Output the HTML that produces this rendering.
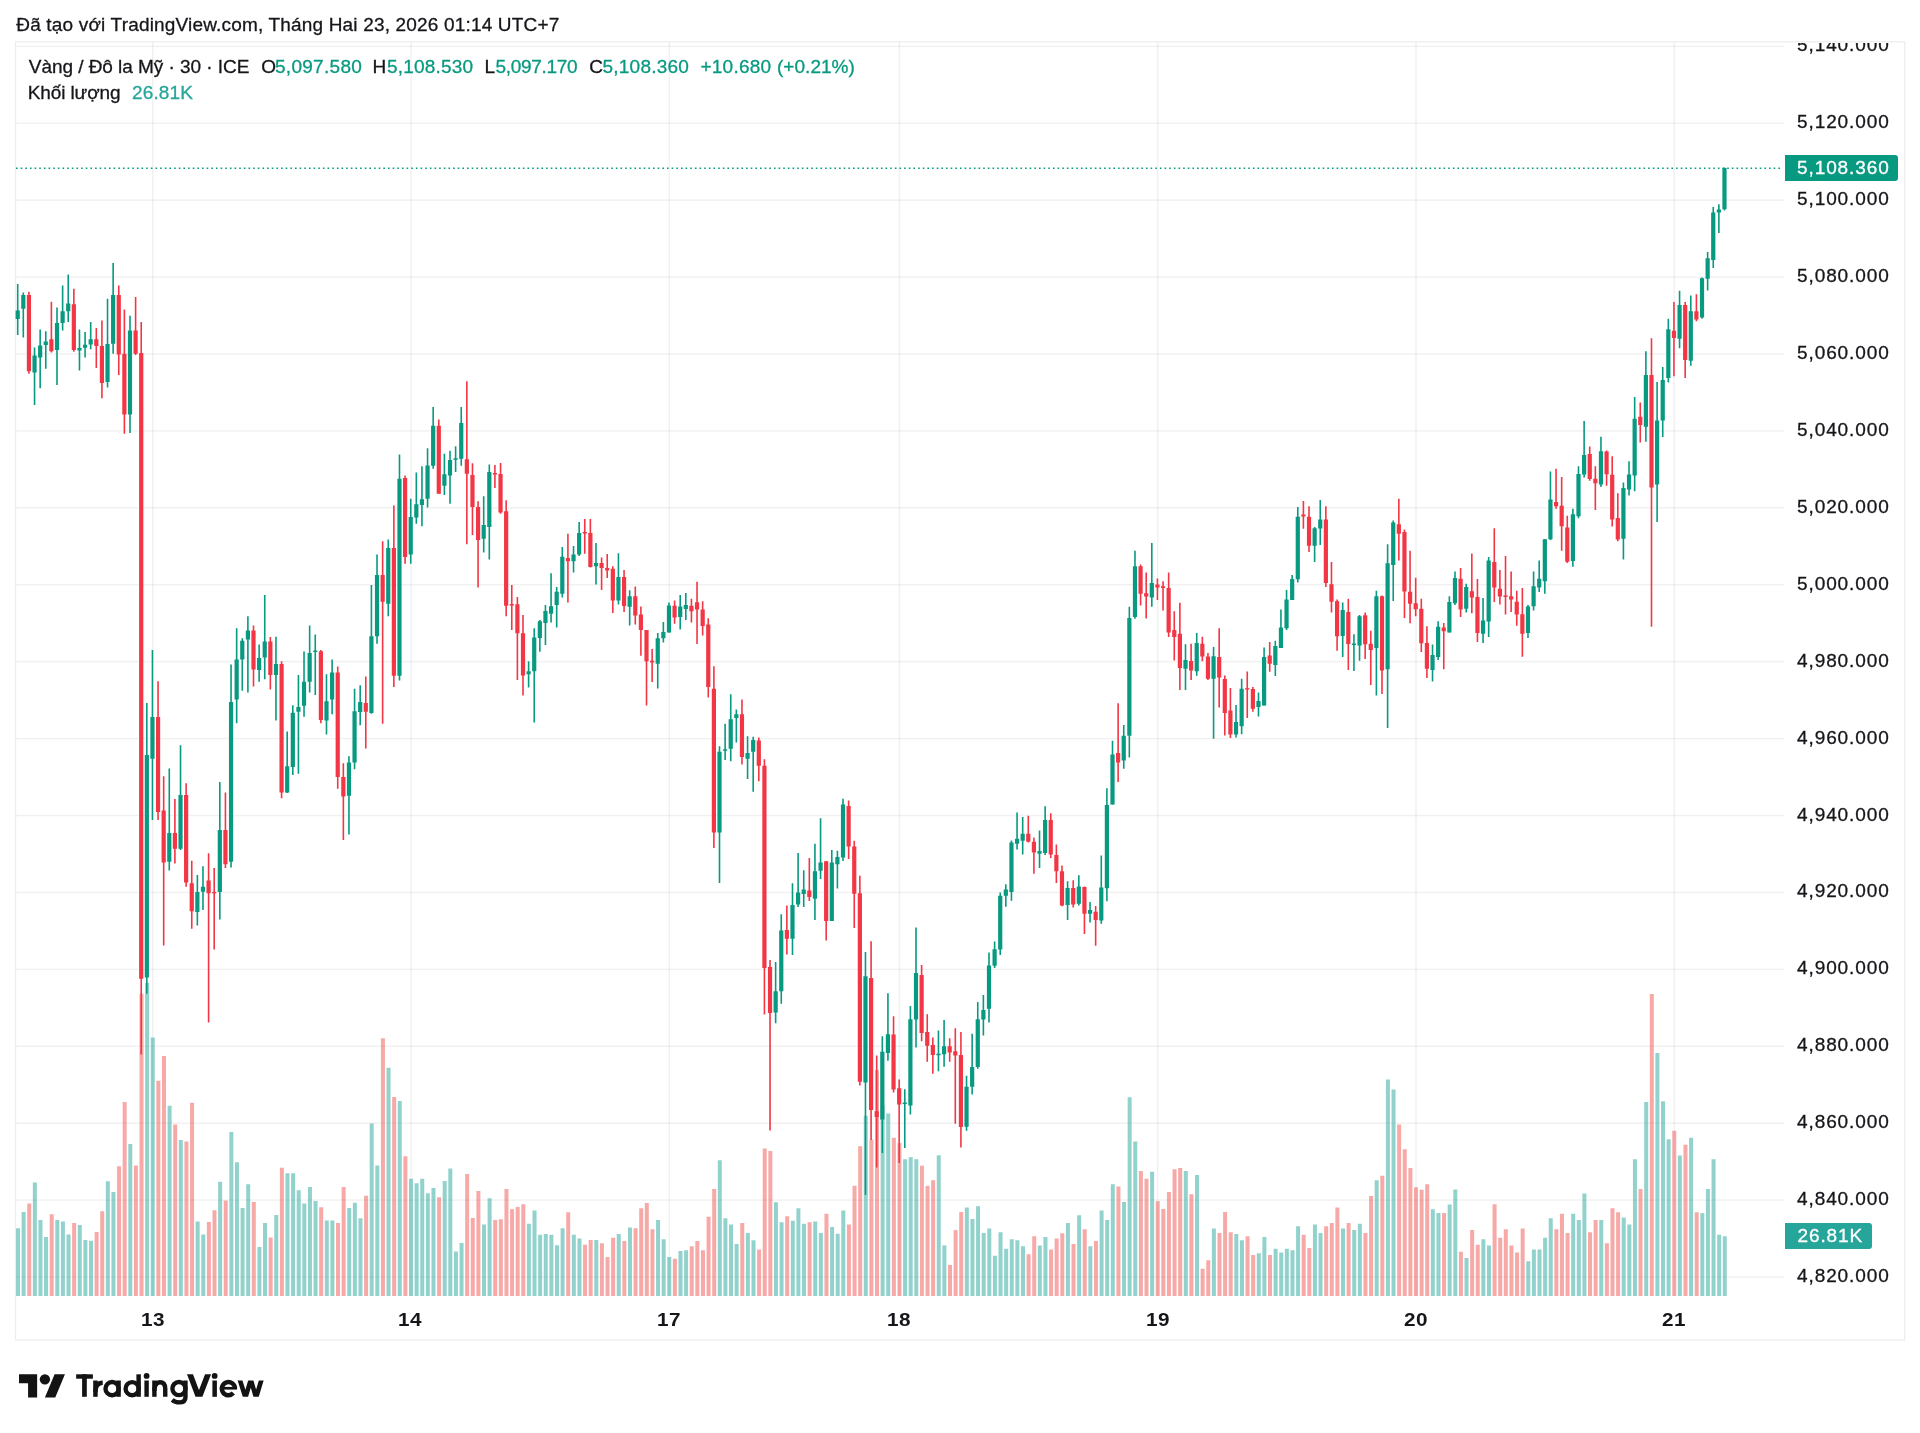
<!DOCTYPE html>
<html><head><meta charset="utf-8"><title>chart</title>
<style>
html,body{margin:0;padding:0;background:#fff;}
body{width:1920px;height:1433px;position:relative;overflow:hidden;font-family:"Liberation Sans",sans-serif;color:#131722;}
.t{position:absolute;white-space:nowrap;line-height:1;}
</style></head><body>
<svg width="1920" height="1433" viewBox="0 0 1920 1433" style="position:absolute;left:0;top:0;display:block">
<rect x="0" y="0" width="1920" height="1433" fill="#fff"/>
<g fill="rgba(0,0,0,0.055)">
<rect x="16" y="45.55" width="1768" height="1.5"/>
<rect x="16" y="122.47" width="1768" height="1.5"/>
<rect x="16" y="199.39" width="1768" height="1.5"/>
<rect x="16" y="276.31" width="1768" height="1.5"/>
<rect x="16" y="353.23" width="1768" height="1.5"/>
<rect x="16" y="430.15" width="1768" height="1.5"/>
<rect x="16" y="507.07" width="1768" height="1.5"/>
<rect x="16" y="583.99" width="1768" height="1.5"/>
<rect x="16" y="660.91" width="1768" height="1.5"/>
<rect x="16" y="737.83" width="1768" height="1.5"/>
<rect x="16" y="814.75" width="1768" height="1.5"/>
<rect x="16" y="891.67" width="1768" height="1.5"/>
<rect x="16" y="968.59" width="1768" height="1.5"/>
<rect x="16" y="1045.51" width="1768" height="1.5"/>
<rect x="16" y="1122.43" width="1768" height="1.5"/>
<rect x="16" y="1199.35" width="1768" height="1.5"/>
<rect x="16" y="1276.27" width="1768" height="1.5"/>
<rect x="152" y="42" width="1.5" height="1254"/>
<rect x="410.26" y="42" width="1.5" height="1254"/>
<rect x="668.52" y="42" width="1.5" height="1254"/>
<rect x="898.71" y="42" width="1.5" height="1254"/>
<rect x="1156.97" y="42" width="1.5" height="1254"/>
<rect x="1415.24" y="42" width="1.5" height="1254"/>
<rect x="1673.5" y="42" width="1.5" height="1254"/>
</g>
<rect x="15.5" y="41.8" width="1889.2" height="1298.2" fill="none" stroke="rgba(0,0,0,0.07)" stroke-width="1.3"/>
<g fill="rgba(38,166,154,0.5)"><rect x="16" y="1228.25" width="4" height="67.75"/><rect x="21.61" y="1212" width="4" height="84"/><rect x="32.84" y="1182.5" width="4" height="113.5"/><rect x="38.46" y="1220" width="4" height="76"/><rect x="44.07" y="1237" width="4" height="59"/><rect x="55.3" y="1220" width="4" height="76"/><rect x="60.92" y="1221.5" width="4" height="74.5"/><rect x="66.53" y="1234.5" width="4" height="61.5"/><rect x="77.76" y="1225" width="4" height="71"/><rect x="83.37" y="1240" width="4" height="56"/><rect x="88.99" y="1240.75" width="4" height="55.25"/><rect x="105.83" y="1181.25" width="4" height="114.75"/><rect x="111.44" y="1192" width="4" height="104"/><rect x="128.29" y="1144" width="4" height="152"/><rect x="145.13" y="983" width="4" height="313"/><rect x="150.75" y="1037.5" width="4" height="258.5"/><rect x="167.59" y="1105.75" width="4" height="190.25"/><rect x="178.82" y="1140" width="4" height="156"/><rect x="195.66" y="1221.5" width="4" height="74.5"/><rect x="201.28" y="1234.5" width="4" height="61.5"/><rect x="218.12" y="1181.75" width="4" height="114.25"/><rect x="229.35" y="1132" width="4" height="164"/><rect x="234.96" y="1162.25" width="4" height="133.75"/><rect x="240.58" y="1208" width="4" height="88"/><rect x="246.19" y="1184.25" width="4" height="111.75"/><rect x="257.42" y="1247" width="4" height="49"/><rect x="263.03" y="1223" width="4" height="73"/><rect x="274.26" y="1215" width="4" height="81"/><rect x="285.49" y="1173.25" width="4" height="122.75"/><rect x="291.11" y="1173.25" width="4" height="122.75"/><rect x="296.72" y="1190.25" width="4" height="105.75"/><rect x="302.33" y="1203.5" width="4" height="92.5"/><rect x="307.95" y="1187" width="4" height="109"/><rect x="313.56" y="1201" width="4" height="95"/><rect x="324.79" y="1220.5" width="4" height="75.5"/><rect x="330.41" y="1220.5" width="4" height="75.5"/><rect x="347.25" y="1208" width="4" height="88"/><rect x="352.86" y="1202.75" width="4" height="93.25"/><rect x="358.48" y="1218.25" width="4" height="77.75"/><rect x="369.71" y="1123.5" width="4" height="172.5"/><rect x="375.32" y="1165.5" width="4" height="130.5"/><rect x="386.55" y="1067.75" width="4" height="228.25"/><rect x="397.78" y="1101" width="4" height="195"/><rect x="409.01" y="1178.75" width="4" height="117.25"/><rect x="414.62" y="1183.25" width="4" height="112.75"/><rect x="420.24" y="1178.75" width="4" height="117.25"/><rect x="425.85" y="1193.25" width="4" height="102.75"/><rect x="431.47" y="1188" width="4" height="108"/><rect x="442.69" y="1181" width="4" height="115"/><rect x="448.31" y="1168.5" width="4" height="127.5"/><rect x="453.92" y="1251.5" width="4" height="44.5"/><rect x="459.54" y="1243" width="4" height="53"/><rect x="482" y="1224.5" width="4" height="71.5"/><rect x="487.61" y="1198.25" width="4" height="97.75"/><rect x="526.91" y="1223.75" width="4" height="72.25"/><rect x="532.52" y="1210.5" width="4" height="85.5"/><rect x="538.14" y="1234.75" width="4" height="61.25"/><rect x="543.75" y="1234" width="4" height="62"/><rect x="549.37" y="1234.75" width="4" height="61.25"/><rect x="554.98" y="1245.25" width="4" height="50.75"/><rect x="560.6" y="1228.25" width="4" height="67.75"/><rect x="571.83" y="1234.75" width="4" height="61.25"/><rect x="577.44" y="1238.5" width="4" height="57.5"/><rect x="594.28" y="1240" width="4" height="56"/><rect x="616.74" y="1234" width="4" height="62"/><rect x="627.97" y="1227.5" width="4" height="68.5"/><rect x="656.04" y="1220" width="4" height="76"/><rect x="661.66" y="1239.25" width="4" height="56.75"/><rect x="667.27" y="1257" width="4" height="39"/><rect x="678.5" y="1251" width="4" height="45"/><rect x="684.11" y="1250.25" width="4" height="45.75"/><rect x="717.8" y="1160.25" width="4" height="135.75"/><rect x="723.41" y="1218.25" width="4" height="77.75"/><rect x="729.03" y="1224.5" width="4" height="71.5"/><rect x="734.64" y="1244" width="4" height="52"/><rect x="745.87" y="1233" width="4" height="63"/><rect x="751.49" y="1240.25" width="4" height="55.75"/><rect x="773.94" y="1202.25" width="4" height="93.75"/><rect x="779.56" y="1222.25" width="4" height="73.75"/><rect x="790.79" y="1220.75" width="4" height="75.25"/><rect x="796.4" y="1208.25" width="4" height="87.75"/><rect x="802.02" y="1223.75" width="4" height="72.25"/><rect x="813.24" y="1221.5" width="4" height="74.5"/><rect x="818.86" y="1233" width="4" height="63"/><rect x="830.09" y="1227" width="4" height="69"/><rect x="835.7" y="1233.75" width="4" height="62.25"/><rect x="841.32" y="1210.5" width="4" height="85.5"/><rect x="863.77" y="1115.75" width="4" height="180.25"/><rect x="880.62" y="1105.37" width="4" height="190.63"/><rect x="886.23" y="1113.47" width="4" height="182.53"/><rect x="903.08" y="1159.26" width="4" height="136.74"/><rect x="908.69" y="1157.19" width="4" height="138.81"/><rect x="914.3" y="1159.26" width="4" height="136.74"/><rect x="936.76" y="1155.31" width="4" height="140.69"/><rect x="942.38" y="1245.38" width="4" height="50.62"/><rect x="964.83" y="1207.5" width="4" height="88.5"/><rect x="970.45" y="1219" width="4" height="77"/><rect x="976.06" y="1206.18" width="4" height="89.82"/><rect x="981.68" y="1232.94" width="4" height="63.06"/><rect x="987.29" y="1228.5" width="4" height="67.5"/><rect x="992.91" y="1255.75" width="4" height="40.25"/><rect x="998.52" y="1232.25" width="4" height="63.75"/><rect x="1004.13" y="1248.75" width="4" height="47.25"/><rect x="1009.75" y="1239.25" width="4" height="56.75"/><rect x="1015.36" y="1240.25" width="4" height="55.75"/><rect x="1020.98" y="1246.25" width="4" height="49.75"/><rect x="1037.82" y="1245.5" width="4" height="50.5"/><rect x="1043.44" y="1237" width="4" height="59"/><rect x="1065.89" y="1223" width="4" height="73"/><rect x="1077.12" y="1215.25" width="4" height="80.75"/><rect x="1088.35" y="1246.25" width="4" height="49.75"/><rect x="1099.58" y="1210.5" width="4" height="85.5"/><rect x="1105.19" y="1220" width="4" height="76"/><rect x="1110.81" y="1184.25" width="4" height="111.75"/><rect x="1122.04" y="1202" width="4" height="94"/><rect x="1127.65" y="1097.25" width="4" height="198.75"/><rect x="1133.27" y="1141.5" width="4" height="154.5"/><rect x="1150.11" y="1171.75" width="4" height="124.25"/><rect x="1183.8" y="1171" width="4" height="125"/><rect x="1195.02" y="1175" width="4" height="121"/><rect x="1211.87" y="1228.5" width="4" height="67.5"/><rect x="1234.32" y="1234" width="4" height="62"/><rect x="1239.94" y="1240.25" width="4" height="55.75"/><rect x="1256.78" y="1253.25" width="4" height="42.75"/><rect x="1262.4" y="1237" width="4" height="59"/><rect x="1273.63" y="1248.75" width="4" height="47.25"/><rect x="1279.24" y="1252.5" width="4" height="43.5"/><rect x="1284.85" y="1248.75" width="4" height="47.25"/><rect x="1290.47" y="1250.25" width="4" height="45.75"/><rect x="1296.08" y="1226.25" width="4" height="69.75"/><rect x="1312.93" y="1224.5" width="4" height="71.5"/><rect x="1318.54" y="1233" width="4" height="63"/><rect x="1341" y="1228.5" width="4" height="67.5"/><rect x="1352.23" y="1230" width="4" height="66"/><rect x="1357.84" y="1223.75" width="4" height="72.25"/><rect x="1374.68" y="1180.25" width="4" height="115.75"/><rect x="1385.91" y="1079.5" width="4" height="216.5"/><rect x="1391.53" y="1089.5" width="4" height="206.5"/><rect x="1430.83" y="1209.25" width="4" height="86.75"/><rect x="1436.44" y="1213" width="4" height="83"/><rect x="1447.67" y="1204.5" width="4" height="91.5"/><rect x="1453.29" y="1189.5" width="4" height="106.5"/><rect x="1464.52" y="1258" width="4" height="38"/><rect x="1481.36" y="1239.25" width="4" height="56.75"/><rect x="1486.97" y="1245.5" width="4" height="50.5"/><rect x="1526.27" y="1261.25" width="4" height="34.75"/><rect x="1531.89" y="1249.5" width="4" height="46.5"/><rect x="1537.5" y="1249.5" width="4" height="46.5"/><rect x="1543.12" y="1237.75" width="4" height="58.25"/><rect x="1548.73" y="1218.25" width="4" height="77.75"/><rect x="1571.19" y="1213.75" width="4" height="82.25"/><rect x="1576.8" y="1220" width="4" height="76"/><rect x="1582.42" y="1193.5" width="4" height="102.5"/><rect x="1599.26" y="1220" width="4" height="76"/><rect x="1621.72" y="1217.5" width="4" height="78.5"/><rect x="1627.33" y="1224.5" width="4" height="71.5"/><rect x="1632.95" y="1159.25" width="4" height="136.75"/><rect x="1644.18" y="1102" width="4" height="194"/><rect x="1655.4" y="1053" width="4" height="243"/><rect x="1661.02" y="1101.25" width="4" height="194.75"/><rect x="1666.63" y="1139.25" width="4" height="156.75"/><rect x="1677.86" y="1155.5" width="4" height="140.5"/><rect x="1689.09" y="1137.75" width="4" height="158.25"/><rect x="1700.32" y="1213" width="4" height="83"/><rect x="1705.93" y="1189" width="4" height="107"/><rect x="1711.55" y="1159.25" width="4" height="136.75"/><rect x="1717.16" y="1234.75" width="4" height="61.25"/><rect x="1722.78" y="1236.25" width="4" height="59.75"/></g>
<g fill="rgba(239,83,80,0.5)"><rect x="27.23" y="1203.5" width="4" height="92.5"/><rect x="49.69" y="1214.25" width="4" height="81.75"/><rect x="72.14" y="1223" width="4" height="73"/><rect x="94.6" y="1232" width="4" height="64"/><rect x="100.22" y="1211.25" width="4" height="84.75"/><rect x="117.06" y="1166.25" width="4" height="129.75"/><rect x="122.67" y="1102" width="4" height="194"/><rect x="133.9" y="1165.5" width="4" height="130.5"/><rect x="139.52" y="993.75" width="4" height="302.25"/><rect x="156.36" y="1080.75" width="4" height="215.25"/><rect x="161.97" y="1056" width="4" height="240"/><rect x="173.2" y="1124.5" width="4" height="171.5"/><rect x="184.43" y="1141.5" width="4" height="154.5"/><rect x="190.05" y="1102.75" width="4" height="193.25"/><rect x="206.89" y="1222" width="4" height="74"/><rect x="212.5" y="1210.25" width="4" height="85.75"/><rect x="223.73" y="1200.5" width="4" height="95.5"/><rect x="251.8" y="1202" width="4" height="94"/><rect x="268.65" y="1237.5" width="4" height="58.5"/><rect x="279.88" y="1167.75" width="4" height="128.25"/><rect x="319.18" y="1207.25" width="4" height="88.75"/><rect x="336.02" y="1223" width="4" height="73"/><rect x="341.64" y="1187" width="4" height="109"/><rect x="364.09" y="1195.75" width="4" height="100.25"/><rect x="380.94" y="1038.25" width="4" height="257.75"/><rect x="392.16" y="1097" width="4" height="199"/><rect x="403.39" y="1156.25" width="4" height="139.75"/><rect x="437.08" y="1197.25" width="4" height="98.75"/><rect x="465.15" y="1174" width="4" height="122"/><rect x="470.77" y="1218" width="4" height="78"/><rect x="476.38" y="1191" width="4" height="105"/><rect x="493.22" y="1220" width="4" height="76"/><rect x="498.84" y="1219.25" width="4" height="76.75"/><rect x="504.45" y="1189" width="4" height="107"/><rect x="510.07" y="1209.25" width="4" height="86.75"/><rect x="515.68" y="1207" width="4" height="89"/><rect x="521.3" y="1204.25" width="4" height="91.75"/><rect x="566.21" y="1212.25" width="4" height="83.75"/><rect x="583.05" y="1244.75" width="4" height="51.25"/><rect x="588.67" y="1240" width="4" height="56"/><rect x="599.9" y="1243.25" width="4" height="52.75"/><rect x="605.51" y="1257" width="4" height="39"/><rect x="611.13" y="1237.75" width="4" height="58.25"/><rect x="622.36" y="1241" width="4" height="55"/><rect x="633.58" y="1228.25" width="4" height="67.75"/><rect x="639.2" y="1208.25" width="4" height="87.75"/><rect x="644.81" y="1203" width="4" height="93"/><rect x="650.43" y="1229.25" width="4" height="66.75"/><rect x="672.88" y="1258.75" width="4" height="37.25"/><rect x="689.73" y="1246.25" width="4" height="49.75"/><rect x="695.34" y="1241" width="4" height="55"/><rect x="700.96" y="1250.25" width="4" height="45.75"/><rect x="706.57" y="1216.75" width="4" height="79.25"/><rect x="712.19" y="1189" width="4" height="107"/><rect x="740.26" y="1223" width="4" height="73"/><rect x="757.1" y="1249.5" width="4" height="46.5"/><rect x="762.72" y="1148.5" width="4" height="147.5"/><rect x="768.33" y="1151" width="4" height="145"/><rect x="785.17" y="1216.25" width="4" height="79.75"/><rect x="807.63" y="1222.25" width="4" height="73.75"/><rect x="824.47" y="1213.75" width="4" height="82.25"/><rect x="846.93" y="1224.5" width="4" height="71.5"/><rect x="852.55" y="1185.75" width="4" height="110.25"/><rect x="858.16" y="1146.25" width="4" height="149.75"/><rect x="869.39" y="1139.59" width="4" height="156.41"/><rect x="875" y="1070.14" width="4" height="225.86"/><rect x="891.85" y="1137.78" width="4" height="158.22"/><rect x="897.46" y="1143.06" width="4" height="152.94"/><rect x="919.92" y="1165.67" width="4" height="130.33"/><rect x="925.53" y="1185.83" width="4" height="110.17"/><rect x="931.15" y="1180.18" width="4" height="115.82"/><rect x="947.99" y="1264.97" width="4" height="31.03"/><rect x="953.6" y="1230.11" width="4" height="65.89"/><rect x="959.22" y="1212.02" width="4" height="83.98"/><rect x="1026.59" y="1254.25" width="4" height="41.75"/><rect x="1032.21" y="1236.25" width="4" height="59.75"/><rect x="1049.05" y="1249.5" width="4" height="46.5"/><rect x="1054.66" y="1238.5" width="4" height="57.5"/><rect x="1060.28" y="1233.25" width="4" height="62.75"/><rect x="1071.51" y="1244" width="4" height="52"/><rect x="1082.74" y="1229.25" width="4" height="66.75"/><rect x="1093.96" y="1241" width="4" height="55"/><rect x="1116.42" y="1186.5" width="4" height="109.5"/><rect x="1138.88" y="1171" width="4" height="125"/><rect x="1144.49" y="1178.75" width="4" height="117.25"/><rect x="1155.72" y="1201.25" width="4" height="94.75"/><rect x="1161.34" y="1209" width="4" height="87"/><rect x="1166.95" y="1192" width="4" height="104"/><rect x="1172.57" y="1169.25" width="4" height="126.75"/><rect x="1178.18" y="1168" width="4" height="128"/><rect x="1189.41" y="1194.25" width="4" height="101.75"/><rect x="1200.64" y="1268.75" width="4" height="27.25"/><rect x="1206.25" y="1260.25" width="4" height="35.75"/><rect x="1217.48" y="1233" width="4" height="63"/><rect x="1223.1" y="1212" width="4" height="84"/><rect x="1228.71" y="1232.25" width="4" height="63.75"/><rect x="1245.55" y="1236.25" width="4" height="59.75"/><rect x="1251.17" y="1255" width="4" height="41"/><rect x="1268.01" y="1255" width="4" height="41"/><rect x="1301.7" y="1234.75" width="4" height="61.25"/><rect x="1307.31" y="1248" width="4" height="48"/><rect x="1324.16" y="1226.25" width="4" height="69.75"/><rect x="1329.77" y="1223" width="4" height="73"/><rect x="1335.38" y="1207.5" width="4" height="88.5"/><rect x="1346.61" y="1223" width="4" height="73"/><rect x="1363.46" y="1233" width="4" height="63"/><rect x="1369.07" y="1196" width="4" height="100"/><rect x="1380.3" y="1175.75" width="4" height="120.25"/><rect x="1397.14" y="1124.5" width="4" height="171.5"/><rect x="1402.76" y="1149.25" width="4" height="146.75"/><rect x="1408.37" y="1168" width="4" height="128"/><rect x="1413.99" y="1187.25" width="4" height="108.75"/><rect x="1419.6" y="1189.75" width="4" height="106.25"/><rect x="1425.21" y="1184.25" width="4" height="111.75"/><rect x="1442.06" y="1213" width="4" height="83"/><rect x="1458.9" y="1251.75" width="4" height="44.25"/><rect x="1470.13" y="1230" width="4" height="66"/><rect x="1475.74" y="1244.75" width="4" height="51.25"/><rect x="1492.59" y="1204.25" width="4" height="91.75"/><rect x="1498.2" y="1237.75" width="4" height="58.25"/><rect x="1503.82" y="1229.25" width="4" height="66.75"/><rect x="1509.43" y="1245.5" width="4" height="50.5"/><rect x="1515.04" y="1252.5" width="4" height="43.5"/><rect x="1520.66" y="1228.5" width="4" height="67.5"/><rect x="1554.35" y="1229.25" width="4" height="66.75"/><rect x="1559.96" y="1213.75" width="4" height="82.25"/><rect x="1565.57" y="1233" width="4" height="63"/><rect x="1588.03" y="1232.25" width="4" height="63.75"/><rect x="1593.65" y="1220" width="4" height="76"/><rect x="1604.88" y="1243.25" width="4" height="52.75"/><rect x="1610.49" y="1208.25" width="4" height="87.75"/><rect x="1616.1" y="1212.25" width="4" height="83.75"/><rect x="1638.56" y="1189" width="4" height="107"/><rect x="1649.79" y="994" width="4" height="302"/><rect x="1672.25" y="1130.75" width="4" height="165.25"/><rect x="1683.48" y="1144.75" width="4" height="151.25"/><rect x="1694.71" y="1212.25" width="4" height="83.75"/></g>
<line x1="16" y1="168.2" x2="1781" y2="168.2" stroke="#089981" stroke-width="1.4" stroke-dasharray="1.6 3.05"/>
<g fill="#089981"><rect x="16.9" y="284" width="1.6" height="51"/><rect x="15.6" y="310.5" width="4.2" height="8.5"/><rect x="22.51" y="292.5" width="1.6" height="45"/><rect x="21.21" y="295" width="4.2" height="13.75"/><rect x="33.74" y="347.5" width="1.6" height="57.5"/><rect x="32.44" y="355.5" width="4.2" height="17"/><rect x="39.36" y="329.5" width="1.6" height="58.75"/><rect x="38.06" y="345.5" width="4.2" height="12"/><rect x="44.97" y="331.25" width="1.6" height="37.5"/><rect x="43.67" y="341.5" width="4.2" height="3.5"/><rect x="56.2" y="307.5" width="1.6" height="77.5"/><rect x="54.9" y="323" width="4.2" height="27"/><rect x="61.82" y="285.5" width="1.6" height="45"/><rect x="60.52" y="311.25" width="4.2" height="11.75"/><rect x="67.43" y="274.5" width="1.6" height="47.5"/><rect x="66.13" y="303.5" width="4.2" height="7.75"/><rect x="78.66" y="329.5" width="1.6" height="41"/><rect x="77.36" y="348" width="4.2" height="2.5"/><rect x="84.27" y="332" width="1.6" height="25.5"/><rect x="82.97" y="344.75" width="4.2" height="3"/><rect x="89.89" y="322" width="1.6" height="27.25"/><rect x="88.59" y="339.25" width="4.2" height="5.25"/><rect x="106.73" y="298.75" width="1.6" height="88.75"/><rect x="105.43" y="344" width="4.2" height="38"/><rect x="112.34" y="263" width="1.6" height="90.75"/><rect x="111.04" y="295" width="4.2" height="48.75"/><rect x="129.19" y="315.75" width="1.6" height="117.25"/><rect x="127.89" y="330.5" width="4.2" height="84"/><rect x="146.03" y="703" width="1.6" height="290.75"/><rect x="144.73" y="755" width="4.2" height="222.5"/><rect x="151.65" y="650" width="1.6" height="170"/><rect x="150.35" y="717" width="4.2" height="41.75"/><rect x="168.49" y="768.5" width="1.6" height="102"/><rect x="167.19" y="833" width="4.2" height="28.75"/><rect x="179.72" y="745.25" width="1.6" height="104.75"/><rect x="178.42" y="795" width="4.2" height="53.75"/><rect x="196.56" y="875" width="1.6" height="50.5"/><rect x="195.26" y="892" width="4.2" height="20"/><rect x="202.18" y="866.25" width="1.6" height="43.75"/><rect x="200.88" y="886.75" width="4.2" height="5"/><rect x="219.02" y="782" width="1.6" height="137.5"/><rect x="217.72" y="830" width="4.2" height="62"/><rect x="230.25" y="664.5" width="1.6" height="203"/><rect x="228.95" y="702" width="4.2" height="159.75"/><rect x="235.86" y="628.25" width="1.6" height="95"/><rect x="234.56" y="659.5" width="4.2" height="40"/><rect x="241.48" y="638.25" width="1.6" height="52.5"/><rect x="240.18" y="640.75" width="4.2" height="18.75"/><rect x="247.09" y="616.25" width="1.6" height="76.25"/><rect x="245.79" y="630.5" width="4.2" height="9"/><rect x="258.32" y="644.5" width="1.6" height="37.25"/><rect x="257.02" y="658" width="4.2" height="12"/><rect x="263.93" y="595" width="1.6" height="84.25"/><rect x="262.63" y="641.5" width="4.2" height="16"/><rect x="275.16" y="636.75" width="1.6" height="83.75"/><rect x="273.86" y="664" width="4.2" height="11"/><rect x="286.39" y="731.5" width="1.6" height="61.5"/><rect x="285.09" y="766.25" width="4.2" height="26.25"/><rect x="292.01" y="705.25" width="1.6" height="69.75"/><rect x="290.71" y="712.75" width="4.2" height="54.25"/><rect x="297.62" y="675" width="1.6" height="98.75"/><rect x="296.32" y="707" width="4.2" height="4.75"/><rect x="303.23" y="651.5" width="1.6" height="65.25"/><rect x="301.93" y="681.75" width="4.2" height="24"/><rect x="308.85" y="625.5" width="1.6" height="67"/><rect x="307.55" y="653" width="4.2" height="28.75"/><rect x="314.46" y="634.5" width="1.6" height="60.5"/><rect x="313.16" y="650.55" width="4.2" height="1.4"/><rect x="325.69" y="674.25" width="1.6" height="60.25"/><rect x="324.39" y="701.25" width="4.2" height="19.25"/><rect x="331.31" y="659.5" width="1.6" height="54.75"/><rect x="330.01" y="672.5" width="4.2" height="27"/><rect x="348.15" y="756.25" width="1.6" height="78.25"/><rect x="346.85" y="762.5" width="4.2" height="33.25"/><rect x="353.76" y="688.75" width="1.6" height="80.5"/><rect x="352.46" y="711.25" width="4.2" height="51.25"/><rect x="359.38" y="685.25" width="1.6" height="40"/><rect x="358.08" y="702" width="4.2" height="10"/><rect x="370.61" y="585" width="1.6" height="128.75"/><rect x="369.31" y="636.25" width="4.2" height="76.75"/><rect x="376.22" y="554.5" width="1.6" height="89.25"/><rect x="374.92" y="575" width="4.2" height="61.25"/><rect x="387.45" y="539.5" width="1.6" height="76.75"/><rect x="386.15" y="548" width="4.2" height="55.75"/><rect x="398.68" y="454.5" width="1.6" height="226"/><rect x="397.38" y="478.75" width="4.2" height="197"/><rect x="409.91" y="498.75" width="1.6" height="65"/><rect x="408.61" y="517" width="4.2" height="37.5"/><rect x="415.52" y="472.5" width="1.6" height="51.25"/><rect x="414.22" y="504.25" width="4.2" height="13.25"/><rect x="421.14" y="466.25" width="1.6" height="60"/><rect x="419.84" y="499.25" width="4.2" height="5.75"/><rect x="426.75" y="448.25" width="1.6" height="59.25"/><rect x="425.45" y="465.5" width="4.2" height="33.25"/><rect x="432.37" y="407" width="1.6" height="61.75"/><rect x="431.07" y="425.75" width="4.2" height="40"/><rect x="443.59" y="453.75" width="1.6" height="41.25"/><rect x="442.29" y="474.25" width="4.2" height="11.5"/><rect x="449.21" y="450.75" width="1.6" height="53"/><rect x="447.91" y="460" width="4.2" height="15.5"/><rect x="454.82" y="446.25" width="1.6" height="25.75"/><rect x="453.52" y="458.25" width="4.2" height="1.5"/><rect x="460.44" y="407" width="1.6" height="58.75"/><rect x="459.14" y="423" width="4.2" height="35.75"/><rect x="482.9" y="496.25" width="1.6" height="56.25"/><rect x="481.6" y="525" width="4.2" height="13.75"/><rect x="488.51" y="464.5" width="1.6" height="95"/><rect x="487.21" y="472" width="4.2" height="55"/><rect x="527.81" y="661.25" width="1.6" height="26.25"/><rect x="526.51" y="671.25" width="4.2" height="3"/><rect x="533.42" y="628.25" width="1.6" height="94.25"/><rect x="532.12" y="637.5" width="4.2" height="33.75"/><rect x="539.04" y="620" width="1.6" height="31.75"/><rect x="537.74" y="621.25" width="4.2" height="16.75"/><rect x="544.65" y="605" width="1.6" height="40"/><rect x="543.35" y="611" width="4.2" height="12"/><rect x="550.27" y="573.25" width="1.6" height="49.25"/><rect x="548.97" y="606.25" width="4.2" height="7.5"/><rect x="555.88" y="587" width="1.6" height="40.5"/><rect x="554.58" y="591.75" width="4.2" height="13.25"/><rect x="561.5" y="547" width="1.6" height="50.5"/><rect x="560.2" y="556.75" width="4.2" height="37"/><rect x="572.73" y="546" width="1.6" height="26.5"/><rect x="571.43" y="554.5" width="4.2" height="6.75"/><rect x="578.34" y="522" width="1.6" height="34"/><rect x="577.04" y="533" width="4.2" height="21.5"/><rect x="595.18" y="543" width="1.6" height="41.5"/><rect x="593.88" y="563" width="4.2" height="3.25"/><rect x="617.64" y="553.25" width="1.6" height="51.25"/><rect x="616.34" y="577" width="4.2" height="23.5"/><rect x="628.87" y="590.25" width="1.6" height="35.25"/><rect x="627.57" y="596.25" width="4.2" height="10.5"/><rect x="656.94" y="633" width="1.6" height="55.5"/><rect x="655.64" y="638.25" width="4.2" height="25.5"/><rect x="662.56" y="622" width="1.6" height="20.5"/><rect x="661.26" y="632" width="4.2" height="6.25"/><rect x="668.17" y="602.5" width="1.6" height="30"/><rect x="666.87" y="605.5" width="4.2" height="27"/><rect x="679.4" y="595" width="1.6" height="34.5"/><rect x="678.1" y="606.5" width="4.2" height="10.5"/><rect x="685.01" y="593" width="1.6" height="27"/><rect x="683.71" y="605" width="4.2" height="4"/><rect x="718.7" y="746.25" width="1.6" height="136.75"/><rect x="717.4" y="751.75" width="4.2" height="80.75"/><rect x="724.31" y="723.75" width="1.6" height="36.25"/><rect x="723.01" y="749.25" width="4.2" height="1.5"/><rect x="729.93" y="694.25" width="1.6" height="67"/><rect x="728.63" y="719.25" width="4.2" height="29.5"/><rect x="735.54" y="709.5" width="1.6" height="33"/><rect x="734.24" y="714.25" width="4.2" height="3.75"/><rect x="746.77" y="736.25" width="1.6" height="42.75"/><rect x="745.47" y="753" width="4.2" height="5.75"/><rect x="752.39" y="736.75" width="1.6" height="55"/><rect x="751.09" y="740" width="4.2" height="11.75"/><rect x="774.84" y="962" width="1.6" height="61.25"/><rect x="773.54" y="991.25" width="4.2" height="21.25"/><rect x="780.46" y="914.25" width="1.6" height="89.5"/><rect x="779.16" y="930.5" width="4.2" height="60.75"/><rect x="791.69" y="883.25" width="1.6" height="71.75"/><rect x="790.39" y="905" width="4.2" height="33.75"/><rect x="797.3" y="853" width="1.6" height="54"/><rect x="796" y="892.5" width="4.2" height="12"/><rect x="802.92" y="870.25" width="1.6" height="36.75"/><rect x="801.62" y="889.5" width="4.2" height="4.5"/><rect x="814.14" y="843.75" width="1.6" height="76.25"/><rect x="812.84" y="871.25" width="4.2" height="27.5"/><rect x="819.76" y="818.25" width="1.6" height="60.75"/><rect x="818.46" y="862.5" width="4.2" height="8.25"/><rect x="830.99" y="850" width="1.6" height="71"/><rect x="829.69" y="862.5" width="4.2" height="58.5"/><rect x="836.6" y="850.75" width="1.6" height="37.75"/><rect x="835.3" y="857" width="4.2" height="7.25"/><rect x="842.22" y="798.75" width="1.6" height="62.25"/><rect x="840.92" y="804.5" width="4.2" height="53"/><rect x="864.67" y="952" width="1.6" height="243"/><rect x="863.37" y="976.25" width="4.2" height="106.25"/><rect x="881.52" y="1036.25" width="1.6" height="116.75"/><rect x="880.22" y="1051.75" width="4.2" height="67.75"/><rect x="887.13" y="993.25" width="1.6" height="67.5"/><rect x="885.83" y="1034.25" width="4.2" height="18.75"/><rect x="903.98" y="1089.25" width="1.6" height="58.75"/><rect x="902.68" y="1102.5" width="4.2" height="1.5"/><rect x="909.59" y="1006" width="1.6" height="108.5"/><rect x="908.29" y="1019.25" width="4.2" height="86.25"/><rect x="915.2" y="927.5" width="1.6" height="120"/><rect x="913.9" y="973" width="4.2" height="46.5"/><rect x="937.66" y="1030.5" width="1.6" height="40.75"/><rect x="936.36" y="1053.75" width="4.2" height="1.5"/><rect x="943.28" y="1020" width="1.6" height="46.75"/><rect x="941.98" y="1046.25" width="4.2" height="8"/><rect x="965.73" y="1075.75" width="1.6" height="55"/><rect x="964.43" y="1086.75" width="4.2" height="40"/><rect x="971.35" y="1033.75" width="1.6" height="60.75"/><rect x="970.05" y="1067" width="4.2" height="19.75"/><rect x="976.96" y="1002" width="1.6" height="66.75"/><rect x="975.66" y="1019.25" width="4.2" height="47.75"/><rect x="982.58" y="995" width="1.6" height="40.5"/><rect x="981.28" y="1010" width="4.2" height="9.5"/><rect x="988.19" y="952.5" width="1.6" height="70"/><rect x="986.89" y="965.5" width="4.2" height="43.25"/><rect x="993.81" y="941.5" width="1.6" height="26.5"/><rect x="992.51" y="949.25" width="4.2" height="16.5"/><rect x="999.42" y="892.5" width="1.6" height="62.5"/><rect x="998.12" y="895.75" width="4.2" height="53.75"/><rect x="1005.03" y="884.25" width="1.6" height="22.5"/><rect x="1003.73" y="889.5" width="4.2" height="6.25"/><rect x="1010.65" y="840.5" width="1.6" height="60.25"/><rect x="1009.35" y="842.5" width="4.2" height="49.5"/><rect x="1016.26" y="812.5" width="1.6" height="37"/><rect x="1014.96" y="838.75" width="4.2" height="5"/><rect x="1021.88" y="817" width="1.6" height="37.5"/><rect x="1020.58" y="833.75" width="4.2" height="7"/><rect x="1038.72" y="830.5" width="1.6" height="37.5"/><rect x="1037.42" y="851" width="4.2" height="2.75"/><rect x="1044.34" y="806.25" width="1.6" height="48.75"/><rect x="1043.04" y="820" width="4.2" height="33"/><rect x="1066.79" y="881.25" width="1.6" height="38.75"/><rect x="1065.49" y="888" width="4.2" height="17"/><rect x="1078.02" y="875.25" width="1.6" height="30.25"/><rect x="1076.72" y="886.5" width="4.2" height="17.25"/><rect x="1089.25" y="902" width="1.6" height="20.5"/><rect x="1087.95" y="910" width="4.2" height="3.75"/><rect x="1100.48" y="855.5" width="1.6" height="68.25"/><rect x="1099.18" y="887.5" width="4.2" height="33"/><rect x="1106.09" y="788.25" width="1.6" height="113"/><rect x="1104.79" y="805" width="4.2" height="83.25"/><rect x="1111.71" y="740.75" width="1.6" height="63.75"/><rect x="1110.41" y="754.5" width="4.2" height="50"/><rect x="1122.94" y="725" width="1.6" height="43.75"/><rect x="1121.64" y="735.75" width="4.2" height="24.75"/><rect x="1128.55" y="606.75" width="1.6" height="150.75"/><rect x="1127.25" y="618" width="4.2" height="117.75"/><rect x="1134.17" y="550.75" width="1.6" height="68"/><rect x="1132.87" y="566.25" width="4.2" height="50.75"/><rect x="1151.01" y="543" width="1.6" height="63.75"/><rect x="1149.71" y="583" width="4.2" height="14.5"/><rect x="1184.7" y="644.25" width="1.6" height="45.75"/><rect x="1183.4" y="660" width="4.2" height="8.75"/><rect x="1195.92" y="633" width="1.6" height="42.75"/><rect x="1194.62" y="643" width="4.2" height="28.25"/><rect x="1212.77" y="647" width="1.6" height="91.75"/><rect x="1211.47" y="656.25" width="4.2" height="22.5"/><rect x="1235.22" y="705" width="1.6" height="32.5"/><rect x="1233.92" y="722" width="4.2" height="12.5"/><rect x="1240.84" y="678.75" width="1.6" height="55.5"/><rect x="1239.54" y="688.75" width="4.2" height="37.5"/><rect x="1257.68" y="692.5" width="1.6" height="24"/><rect x="1256.38" y="701" width="4.2" height="6"/><rect x="1263.3" y="647.5" width="1.6" height="58"/><rect x="1262" y="657" width="4.2" height="48.5"/><rect x="1274.53" y="640.75" width="1.6" height="35.25"/><rect x="1273.23" y="646" width="4.2" height="19"/><rect x="1280.14" y="609.5" width="1.6" height="38.5"/><rect x="1278.84" y="627.5" width="4.2" height="20.5"/><rect x="1285.75" y="590" width="1.6" height="40"/><rect x="1284.45" y="599.5" width="4.2" height="28.75"/><rect x="1291.37" y="575" width="1.6" height="25"/><rect x="1290.07" y="579" width="4.2" height="21"/><rect x="1296.98" y="507" width="1.6" height="75.5"/><rect x="1295.68" y="516.75" width="4.2" height="62.5"/><rect x="1313.83" y="527" width="1.6" height="35"/><rect x="1312.53" y="528.25" width="4.2" height="17.5"/><rect x="1319.44" y="500" width="1.6" height="45"/><rect x="1318.14" y="519.5" width="4.2" height="9"/><rect x="1341.9" y="602.5" width="1.6" height="54.5"/><rect x="1340.6" y="610" width="4.2" height="26"/><rect x="1353.13" y="634.25" width="1.6" height="36.75"/><rect x="1351.83" y="643.5" width="4.2" height="1.5"/><rect x="1358.74" y="615" width="1.6" height="45.75"/><rect x="1357.44" y="616.25" width="4.2" height="29.25"/><rect x="1375.58" y="590.75" width="1.6" height="104.75"/><rect x="1374.28" y="596.25" width="4.2" height="51.75"/><rect x="1386.81" y="544.25" width="1.6" height="183.75"/><rect x="1385.51" y="563.25" width="4.2" height="106"/><rect x="1392.43" y="520.5" width="1.6" height="80.5"/><rect x="1391.13" y="522.5" width="4.2" height="42.5"/><rect x="1431.73" y="644.5" width="1.6" height="37"/><rect x="1430.43" y="655" width="4.2" height="15"/><rect x="1437.34" y="621.25" width="1.6" height="38.75"/><rect x="1436.04" y="626.75" width="4.2" height="30.25"/><rect x="1448.57" y="596.25" width="1.6" height="36.25"/><rect x="1447.27" y="602" width="4.2" height="30.5"/><rect x="1454.19" y="571.5" width="1.6" height="33.5"/><rect x="1452.89" y="578" width="4.2" height="25.25"/><rect x="1465.42" y="583.75" width="1.6" height="28.75"/><rect x="1464.12" y="587" width="4.2" height="21.75"/><rect x="1482.26" y="598" width="1.6" height="45"/><rect x="1480.96" y="620.5" width="4.2" height="13.25"/><rect x="1487.87" y="557" width="1.6" height="80"/><rect x="1486.57" y="560.5" width="4.2" height="61"/><rect x="1527.17" y="605" width="1.6" height="33"/><rect x="1525.87" y="606.5" width="4.2" height="26.5"/><rect x="1532.79" y="571.5" width="1.6" height="39"/><rect x="1531.49" y="586.25" width="4.2" height="20"/><rect x="1538.4" y="560.5" width="1.6" height="31.5"/><rect x="1537.1" y="578.75" width="4.2" height="8.75"/><rect x="1544.02" y="539" width="1.6" height="54.75"/><rect x="1542.72" y="539.25" width="4.2" height="42"/><rect x="1549.63" y="471.5" width="1.6" height="68.5"/><rect x="1548.33" y="499.5" width="4.2" height="39.75"/><rect x="1572.09" y="508.75" width="1.6" height="58"/><rect x="1570.79" y="514.25" width="4.2" height="46.75"/><rect x="1577.7" y="466.25" width="1.6" height="52"/><rect x="1576.4" y="474" width="4.2" height="42.25"/><rect x="1583.32" y="421" width="1.6" height="56.5"/><rect x="1582.02" y="455" width="4.2" height="19.5"/><rect x="1600.16" y="436.75" width="1.6" height="50.25"/><rect x="1598.86" y="451.25" width="4.2" height="33.25"/><rect x="1622.62" y="482.5" width="1.6" height="77"/><rect x="1621.32" y="488" width="4.2" height="50.75"/><rect x="1628.23" y="461.25" width="1.6" height="34.25"/><rect x="1626.93" y="474.5" width="4.2" height="15"/><rect x="1633.85" y="397" width="1.6" height="94.25"/><rect x="1632.55" y="418.75" width="4.2" height="56.75"/><rect x="1645.08" y="351.25" width="1.6" height="90.5"/><rect x="1643.78" y="375" width="4.2" height="51.75"/><rect x="1656.3" y="382" width="1.6" height="140"/><rect x="1655" y="420.5" width="4.2" height="64"/><rect x="1661.92" y="367" width="1.6" height="70"/><rect x="1660.62" y="380" width="4.2" height="40.5"/><rect x="1667.53" y="318.75" width="1.6" height="63.75"/><rect x="1666.23" y="329.25" width="4.2" height="48.75"/><rect x="1678.76" y="290.75" width="1.6" height="57.5"/><rect x="1677.46" y="305" width="4.2" height="33.75"/><rect x="1689.99" y="295.5" width="1.6" height="70.25"/><rect x="1688.69" y="311.25" width="4.2" height="49.5"/><rect x="1701.22" y="277.5" width="1.6" height="41.25"/><rect x="1699.92" y="278.25" width="4.2" height="39.25"/><rect x="1706.83" y="252" width="1.6" height="38.5"/><rect x="1705.53" y="258.25" width="4.2" height="20.5"/><rect x="1712.45" y="207" width="1.6" height="61"/><rect x="1711.15" y="212.5" width="4.2" height="47.5"/><rect x="1718.06" y="204.25" width="1.6" height="28.75"/><rect x="1716.76" y="209.5" width="4.2" height="3"/><rect x="1723.68" y="167.5" width="1.6" height="43"/><rect x="1722.38" y="168" width="4.2" height="41.25"/></g>
<g fill="#f23645"><rect x="28.13" y="291.75" width="1.6" height="82"/><rect x="26.83" y="295" width="4.2" height="76.25"/><rect x="50.59" y="301.75" width="1.6" height="50.75"/><rect x="49.29" y="339.25" width="4.2" height="12"/><rect x="73.04" y="288.75" width="1.6" height="63"/><rect x="71.74" y="304.25" width="4.2" height="45.75"/><rect x="95.5" y="328" width="1.6" height="40"/><rect x="94.2" y="339.25" width="4.2" height="6.75"/><rect x="101.12" y="320.5" width="1.6" height="77.75"/><rect x="99.82" y="346" width="4.2" height="37"/><rect x="117.96" y="285.5" width="1.6" height="89.5"/><rect x="116.66" y="295" width="4.2" height="59.5"/><rect x="123.57" y="309.5" width="1.6" height="124.25"/><rect x="122.27" y="353.75" width="4.2" height="60.75"/><rect x="134.8" y="297" width="1.6" height="58"/><rect x="133.5" y="330.5" width="4.2" height="23.25"/><rect x="140.42" y="322" width="1.6" height="732.5"/><rect x="139.12" y="353" width="4.2" height="625.75"/><rect x="157.26" y="681.25" width="1.6" height="138.75"/><rect x="155.96" y="717" width="4.2" height="95"/><rect x="162.87" y="776.25" width="1.6" height="169.25"/><rect x="161.57" y="810.5" width="4.2" height="52"/><rect x="174.1" y="799" width="1.6" height="64.5"/><rect x="172.8" y="833" width="4.2" height="15.75"/><rect x="185.33" y="783.25" width="1.6" height="103.5"/><rect x="184.03" y="795" width="4.2" height="87.5"/><rect x="190.95" y="860.75" width="1.6" height="68"/><rect x="189.65" y="883.25" width="4.2" height="28"/><rect x="207.79" y="853.25" width="1.6" height="169.25"/><rect x="206.49" y="880.5" width="4.2" height="12.75"/><rect x="213.4" y="868" width="1.6" height="81.5"/><rect x="212.1" y="891.92" width="4.2" height="1.4"/><rect x="224.63" y="792.5" width="1.6" height="75.5"/><rect x="223.33" y="830" width="4.2" height="34.25"/><rect x="252.7" y="625.5" width="1.6" height="61"/><rect x="251.4" y="630.5" width="4.2" height="39"/><rect x="269.55" y="637" width="1.6" height="52.5"/><rect x="268.25" y="641.5" width="4.2" height="33.5"/><rect x="280.78" y="661.25" width="1.6" height="137"/><rect x="279.48" y="664" width="4.2" height="128.5"/><rect x="320.08" y="650" width="1.6" height="73.25"/><rect x="318.78" y="651.25" width="4.2" height="68.75"/><rect x="336.92" y="666.5" width="1.6" height="122.25"/><rect x="335.62" y="672.5" width="4.2" height="104.5"/><rect x="342.54" y="763.25" width="1.6" height="76.75"/><rect x="341.24" y="777" width="4.2" height="19.5"/><rect x="364.99" y="676.5" width="1.6" height="72"/><rect x="363.69" y="703" width="4.2" height="8.75"/><rect x="381.84" y="541.25" width="1.6" height="182.5"/><rect x="380.54" y="575" width="4.2" height="26.75"/><rect x="393.06" y="505.5" width="1.6" height="181.5"/><rect x="391.76" y="548" width="4.2" height="127.75"/><rect x="404.29" y="475.5" width="1.6" height="88.25"/><rect x="402.99" y="478" width="4.2" height="79"/><rect x="437.98" y="419.5" width="1.6" height="74.25"/><rect x="436.68" y="425.75" width="4.2" height="68"/><rect x="466.05" y="381.25" width="1.6" height="163"/><rect x="464.75" y="459.25" width="4.2" height="14.5"/><rect x="471.67" y="463.25" width="1.6" height="71.75"/><rect x="470.37" y="475" width="4.2" height="32"/><rect x="477.28" y="501.25" width="1.6" height="86.25"/><rect x="475.98" y="507" width="4.2" height="33"/><rect x="494.12" y="465" width="1.6" height="23"/><rect x="492.82" y="473" width="4.2" height="1.5"/><rect x="499.74" y="463" width="1.6" height="50.75"/><rect x="498.44" y="474" width="4.2" height="38.5"/><rect x="505.35" y="500.25" width="1.6" height="116"/><rect x="504.05" y="511.25" width="4.2" height="94.5"/><rect x="510.97" y="585" width="1.6" height="45"/><rect x="509.67" y="604" width="4.2" height="1.5"/><rect x="516.58" y="597" width="1.6" height="83"/><rect x="515.28" y="604.25" width="4.2" height="29"/><rect x="522.2" y="615" width="1.6" height="80.5"/><rect x="520.9" y="633.25" width="4.2" height="42.25"/><rect x="567.11" y="533.75" width="1.6" height="68.75"/><rect x="565.81" y="558" width="4.2" height="3.25"/><rect x="583.95" y="519" width="1.6" height="34.75"/><rect x="582.65" y="532" width="4.2" height="1.5"/><rect x="589.57" y="519" width="1.6" height="48.5"/><rect x="588.27" y="533" width="4.2" height="34"/><rect x="600.8" y="557.5" width="1.6" height="32.5"/><rect x="599.5" y="563" width="4.2" height="5"/><rect x="606.41" y="554" width="1.6" height="24"/><rect x="605.11" y="568" width="4.2" height="2.5"/><rect x="612.03" y="566.25" width="1.6" height="46.75"/><rect x="610.73" y="568.75" width="4.2" height="31.75"/><rect x="623.26" y="570" width="1.6" height="42"/><rect x="621.96" y="577" width="4.2" height="29"/><rect x="634.48" y="586.5" width="1.6" height="38"/><rect x="633.18" y="596.25" width="4.2" height="19.25"/><rect x="640.1" y="606.5" width="1.6" height="49.25"/><rect x="638.8" y="614.5" width="4.2" height="15.5"/><rect x="645.71" y="630" width="1.6" height="75.5"/><rect x="644.41" y="630" width="4.2" height="31.25"/><rect x="651.33" y="649" width="1.6" height="33"/><rect x="650.03" y="660.75" width="4.2" height="1.75"/><rect x="673.78" y="600.5" width="1.6" height="23.25"/><rect x="672.48" y="605.75" width="4.2" height="11.75"/><rect x="690.63" y="598.75" width="1.6" height="23.75"/><rect x="689.33" y="605.75" width="4.2" height="5.5"/><rect x="696.24" y="581.75" width="1.6" height="62.25"/><rect x="694.94" y="602.25" width="4.2" height="7.25"/><rect x="701.86" y="601.25" width="1.6" height="34.25"/><rect x="700.56" y="609.5" width="4.2" height="16.5"/><rect x="707.47" y="618.25" width="1.6" height="79.25"/><rect x="706.17" y="624.5" width="4.2" height="62.5"/><rect x="713.09" y="666.25" width="1.6" height="181.75"/><rect x="711.79" y="688.75" width="4.2" height="143.75"/><rect x="741.16" y="699.5" width="1.6" height="65"/><rect x="739.86" y="714.25" width="4.2" height="42.75"/><rect x="758" y="737.5" width="1.6" height="43.75"/><rect x="756.7" y="740.5" width="4.2" height="25.25"/><rect x="763.62" y="759.25" width="1.6" height="255.25"/><rect x="762.32" y="765.75" width="4.2" height="202.25"/><rect x="769.23" y="960" width="1.6" height="170.5"/><rect x="767.93" y="967" width="4.2" height="46"/><rect x="786.07" y="905.5" width="1.6" height="49"/><rect x="784.77" y="930" width="4.2" height="8.75"/><rect x="808.53" y="858" width="1.6" height="43"/><rect x="807.23" y="890.5" width="4.2" height="6.5"/><rect x="825.37" y="861.25" width="1.6" height="79.25"/><rect x="824.07" y="861.25" width="4.2" height="59.75"/><rect x="847.83" y="800.5" width="1.6" height="58.5"/><rect x="846.53" y="806" width="4.2" height="40.5"/><rect x="853.45" y="840.75" width="1.6" height="87.25"/><rect x="852.15" y="846.5" width="4.2" height="47.25"/><rect x="859.06" y="875.75" width="1.6" height="209.75"/><rect x="857.76" y="893.25" width="4.2" height="188.5"/><rect x="870.29" y="941.25" width="1.6" height="198.75"/><rect x="868.99" y="978" width="4.2" height="132"/><rect x="875.9" y="1055.5" width="1.6" height="112"/><rect x="874.6" y="1111.25" width="4.2" height="5.75"/><rect x="892.75" y="1016.25" width="1.6" height="76.25"/><rect x="891.45" y="1034.5" width="4.2" height="55"/><rect x="898.36" y="1079.5" width="1.6" height="83.5"/><rect x="897.06" y="1088.25" width="4.2" height="16.25"/><rect x="920.82" y="965" width="1.6" height="76.25"/><rect x="919.52" y="975" width="4.2" height="58"/><rect x="926.43" y="1014.25" width="1.6" height="47.5"/><rect x="925.13" y="1032" width="4.2" height="13.75"/><rect x="932.05" y="1037.5" width="1.6" height="36.25"/><rect x="930.75" y="1045" width="4.2" height="10"/><rect x="948.89" y="1038.25" width="1.6" height="23.5"/><rect x="947.59" y="1046.25" width="4.2" height="6.25"/><rect x="954.5" y="1028.25" width="1.6" height="95.5"/><rect x="953.2" y="1051.25" width="4.2" height="4.25"/><rect x="960.12" y="1032" width="1.6" height="115.5"/><rect x="958.82" y="1055" width="4.2" height="72"/><rect x="1027.49" y="815.75" width="1.6" height="26.75"/><rect x="1026.19" y="833.75" width="4.2" height="8"/><rect x="1033.11" y="837.5" width="1.6" height="36.25"/><rect x="1031.81" y="841.75" width="4.2" height="10.75"/><rect x="1049.95" y="813.25" width="1.6" height="44.75"/><rect x="1048.65" y="820" width="4.2" height="34.5"/><rect x="1055.56" y="844.5" width="1.6" height="38.5"/><rect x="1054.26" y="855" width="4.2" height="16.25"/><rect x="1061.18" y="865.5" width="1.6" height="40.75"/><rect x="1059.88" y="871.25" width="4.2" height="34.25"/><rect x="1072.41" y="880.25" width="1.6" height="27.25"/><rect x="1071.11" y="888" width="4.2" height="16.5"/><rect x="1083.64" y="886.5" width="1.6" height="47.5"/><rect x="1082.34" y="887" width="4.2" height="26.75"/><rect x="1094.86" y="906" width="1.6" height="39.75"/><rect x="1093.56" y="911.75" width="4.2" height="8.25"/><rect x="1117.32" y="703.25" width="1.6" height="78.75"/><rect x="1116.02" y="753" width="4.2" height="9.5"/><rect x="1139.78" y="564.5" width="1.6" height="41"/><rect x="1138.48" y="566.25" width="4.2" height="27.5"/><rect x="1145.39" y="572.5" width="1.6" height="46"/><rect x="1144.09" y="593.25" width="4.2" height="3.25"/><rect x="1156.62" y="578.5" width="1.6" height="21.5"/><rect x="1155.32" y="584.5" width="4.2" height="3"/><rect x="1162.24" y="581.25" width="1.6" height="29.25"/><rect x="1160.94" y="586.25" width="4.2" height="1.75"/><rect x="1167.85" y="572.5" width="1.6" height="64.5"/><rect x="1166.55" y="588" width="4.2" height="44.5"/><rect x="1173.47" y="611.25" width="1.6" height="49.25"/><rect x="1172.17" y="630" width="4.2" height="7"/><rect x="1179.08" y="602.75" width="1.6" height="87.25"/><rect x="1177.78" y="633.75" width="4.2" height="34.25"/><rect x="1190.31" y="643.75" width="1.6" height="36.25"/><rect x="1189.01" y="661" width="4.2" height="9.5"/><rect x="1201.54" y="636.75" width="1.6" height="24.5"/><rect x="1200.24" y="643.75" width="4.2" height="12.75"/><rect x="1207.15" y="653" width="1.6" height="27"/><rect x="1205.85" y="656.5" width="4.2" height="22.25"/><rect x="1218.38" y="628.25" width="1.6" height="79.25"/><rect x="1217.08" y="657" width="4.2" height="20.5"/><rect x="1224" y="675.5" width="1.6" height="60"/><rect x="1222.7" y="679" width="4.2" height="34"/><rect x="1229.61" y="688" width="1.6" height="50"/><rect x="1228.31" y="710.5" width="4.2" height="24"/><rect x="1246.45" y="671.5" width="1.6" height="46.5"/><rect x="1245.15" y="688.17" width="4.2" height="1.4"/><rect x="1252.07" y="687" width="1.6" height="24.75"/><rect x="1250.77" y="689" width="4.2" height="19.75"/><rect x="1268.91" y="642" width="1.6" height="29.75"/><rect x="1267.61" y="655.5" width="4.2" height="8.25"/><rect x="1302.6" y="501" width="1.6" height="27.75"/><rect x="1301.3" y="514.5" width="4.2" height="2"/><rect x="1308.21" y="506.25" width="1.6" height="45.75"/><rect x="1306.91" y="516.75" width="4.2" height="29"/><rect x="1325.06" y="506.25" width="1.6" height="80.75"/><rect x="1323.76" y="519.5" width="4.2" height="63.5"/><rect x="1330.67" y="562" width="1.6" height="50.5"/><rect x="1329.37" y="584.25" width="4.2" height="17.5"/><rect x="1336.28" y="599.5" width="1.6" height="51.25"/><rect x="1334.98" y="601.25" width="4.2" height="35"/><rect x="1347.51" y="598.75" width="1.6" height="71.25"/><rect x="1346.21" y="612" width="4.2" height="32"/><rect x="1364.36" y="612.5" width="1.6" height="46.5"/><rect x="1363.06" y="615.25" width="4.2" height="29"/><rect x="1369.97" y="630.75" width="1.6" height="54.25"/><rect x="1368.67" y="643.75" width="4.2" height="6.25"/><rect x="1381.2" y="595.5" width="1.6" height="98.5"/><rect x="1379.9" y="596.25" width="4.2" height="74.25"/><rect x="1398.04" y="498.75" width="1.6" height="61.75"/><rect x="1396.74" y="524.25" width="4.2" height="9.5"/><rect x="1403.66" y="529.5" width="1.6" height="88.5"/><rect x="1402.36" y="532" width="4.2" height="59.5"/><rect x="1409.27" y="550.75" width="1.6" height="72.5"/><rect x="1407.97" y="591.75" width="4.2" height="12"/><rect x="1414.89" y="577.75" width="1.6" height="38.5"/><rect x="1413.59" y="603.25" width="4.2" height="6"/><rect x="1420.5" y="598.75" width="1.6" height="53.25"/><rect x="1419.2" y="608.75" width="4.2" height="34.5"/><rect x="1426.11" y="626.25" width="1.6" height="51.75"/><rect x="1424.81" y="643" width="4.2" height="25.75"/><rect x="1442.96" y="623" width="1.6" height="46.25"/><rect x="1441.66" y="627.5" width="4.2" height="3.75"/><rect x="1459.8" y="568" width="1.6" height="49"/><rect x="1458.5" y="578.75" width="4.2" height="30.75"/><rect x="1471.03" y="553.5" width="1.6" height="59.75"/><rect x="1469.73" y="591.25" width="4.2" height="6.25"/><rect x="1476.64" y="579" width="1.6" height="63"/><rect x="1475.34" y="597" width="4.2" height="36"/><rect x="1493.49" y="528.25" width="1.6" height="73.75"/><rect x="1492.19" y="562" width="4.2" height="25.5"/><rect x="1499.1" y="570" width="1.6" height="34.5"/><rect x="1497.8" y="588.75" width="4.2" height="7.75"/><rect x="1504.72" y="556" width="1.6" height="58.5"/><rect x="1503.42" y="595.5" width="4.2" height="1.5"/><rect x="1510.33" y="571.5" width="1.6" height="40.5"/><rect x="1509.03" y="596.25" width="4.2" height="3.25"/><rect x="1515.94" y="590.75" width="1.6" height="35"/><rect x="1514.64" y="601.75" width="4.2" height="12.75"/><rect x="1521.56" y="588" width="1.6" height="68.75"/><rect x="1520.26" y="614.25" width="4.2" height="19.5"/><rect x="1555.25" y="468.75" width="1.6" height="40"/><rect x="1553.95" y="502" width="4.2" height="4.25"/><rect x="1560.86" y="477" width="1.6" height="73.75"/><rect x="1559.56" y="505.75" width="4.2" height="20.5"/><rect x="1566.47" y="515.75" width="1.6" height="47.25"/><rect x="1565.17" y="527.5" width="4.2" height="34.25"/><rect x="1588.93" y="446.5" width="1.6" height="34.25"/><rect x="1587.63" y="454" width="4.2" height="25"/><rect x="1594.55" y="466.25" width="1.6" height="43.75"/><rect x="1593.25" y="478.75" width="4.2" height="4.5"/><rect x="1605.78" y="450.5" width="1.6" height="35.25"/><rect x="1604.48" y="451.5" width="4.2" height="22.75"/><rect x="1611.39" y="456.25" width="1.6" height="70.25"/><rect x="1610.09" y="474.75" width="4.2" height="44.75"/><rect x="1617" y="493.25" width="1.6" height="48"/><rect x="1615.7" y="518" width="4.2" height="21.5"/><rect x="1639.46" y="402.5" width="1.6" height="40"/><rect x="1638.16" y="416.75" width="4.2" height="8.25"/><rect x="1650.69" y="338.25" width="1.6" height="288.5"/><rect x="1649.39" y="375" width="4.2" height="112.5"/><rect x="1673.15" y="302" width="1.6" height="74.25"/><rect x="1671.85" y="330.75" width="4.2" height="7.25"/><rect x="1684.38" y="302" width="1.6" height="76"/><rect x="1683.08" y="305" width="4.2" height="55"/><rect x="1695.61" y="294.25" width="1.6" height="27"/><rect x="1694.31" y="311.25" width="4.2" height="8.25"/></g>
</svg>
<div style="position:absolute;left:0;top:0;width:1920px;height:1433px;will-change:transform">
<div style="position:absolute;left:1784px;top:42.5px;width:120px;height:1297px;overflow:hidden"><span class="t" style="left:13.00px;top:-7.18px;font-size:19px;letter-spacing:0.905px;color:#15161a;-webkit-text-stroke:0.3px;">5,140.000</span>
<span class="t" style="left:13.00px;top:69.74px;font-size:19px;letter-spacing:0.905px;color:#15161a;-webkit-text-stroke:0.3px;">5,120.000</span>
<span class="t" style="left:13.00px;top:146.66px;font-size:19px;letter-spacing:0.905px;color:#15161a;-webkit-text-stroke:0.3px;">5,100.000</span>
<span class="t" style="left:13.00px;top:223.58px;font-size:19px;letter-spacing:0.905px;color:#15161a;-webkit-text-stroke:0.3px;">5,080.000</span>
<span class="t" style="left:13.00px;top:300.50px;font-size:19px;letter-spacing:0.905px;color:#15161a;-webkit-text-stroke:0.3px;">5,060.000</span>
<span class="t" style="left:13.00px;top:377.42px;font-size:19px;letter-spacing:0.905px;color:#15161a;-webkit-text-stroke:0.3px;">5,040.000</span>
<span class="t" style="left:13.00px;top:454.34px;font-size:19px;letter-spacing:0.905px;color:#15161a;-webkit-text-stroke:0.3px;">5,020.000</span>
<span class="t" style="left:13.00px;top:531.26px;font-size:19px;letter-spacing:0.905px;color:#15161a;-webkit-text-stroke:0.3px;">5,000.000</span>
<span class="t" style="left:13.00px;top:608.18px;font-size:19px;letter-spacing:0.905px;color:#15161a;-webkit-text-stroke:0.3px;">4,980.000</span>
<span class="t" style="left:13.00px;top:685.10px;font-size:19px;letter-spacing:0.905px;color:#15161a;-webkit-text-stroke:0.3px;">4,960.000</span>
<span class="t" style="left:13.00px;top:762.02px;font-size:19px;letter-spacing:0.905px;color:#15161a;-webkit-text-stroke:0.3px;">4,940.000</span>
<span class="t" style="left:13.00px;top:838.94px;font-size:19px;letter-spacing:0.905px;color:#15161a;-webkit-text-stroke:0.3px;">4,920.000</span>
<span class="t" style="left:13.00px;top:915.86px;font-size:19px;letter-spacing:0.905px;color:#15161a;-webkit-text-stroke:0.3px;">4,900.000</span>
<span class="t" style="left:13.00px;top:992.78px;font-size:19px;letter-spacing:0.905px;color:#15161a;-webkit-text-stroke:0.3px;">4,880.000</span>
<span class="t" style="left:13.00px;top:1069.70px;font-size:19px;letter-spacing:0.905px;color:#15161a;-webkit-text-stroke:0.3px;">4,860.000</span>
<span class="t" style="left:13.00px;top:1146.62px;font-size:19px;letter-spacing:0.905px;color:#15161a;-webkit-text-stroke:0.3px;">4,840.000</span>
<span class="t" style="left:13.00px;top:1223.54px;font-size:19px;letter-spacing:0.905px;color:#15161a;-webkit-text-stroke:0.3px;">4,820.000</span></div>
<div style="position:absolute;left:1785px;top:155px;width:113.3px;height:26.2px;background:#089981;border-radius:0 3px 3px 0"></div>
<div style="position:absolute;left:1785px;top:1223px;width:87px;height:26.2px;background:#26a69a;border-radius:0 3px 3px 0"></div>
<svg style="position:absolute;left:18.7px;top:1368.8px" width="47" height="37" viewBox="0 0 36.3 28.6"><path fill="#131313" d="M14 22H7V11H0V4h14v18zM28 22h-8l7.5-18h8L28 22z"/><circle fill="#131313" cx="20" cy="8" r="4"/></svg><svg style="position:absolute;left:0;top:1360px" width="300" height="60" viewBox="0 1360 300 60"><defs><clipPath id="cv"><rect x="180" y="1374.3" width="40" height="22.5"/></clipPath><clipPath id="cw"><rect x="230" y="1380.5" width="40" height="16.299999999999955"/></clipPath></defs><g fill="#131313" stroke="none"><rect x="76.15" y="1374.3" width="16.75" height="4.4"/><rect x="82.1" y="1374.3" width="4.7" height="22.5"/><rect x="93.2" y="1380.5" width="4.50" height="16.30"/><rect x="116.3" y="1380.5" width="4.50" height="16.30"/><rect x="136.4" y="1374.3" width="4.45" height="22.50"/><rect x="144.4" y="1380.5" width="4.40" height="16.30"/><rect x="152.2" y="1380.5" width="4.40" height="16.30"/><rect x="212.4" y="1380.5" width="4.50" height="16.30"/><circle cx="146.6" cy="1375.9" r="2.9"/><circle cx="214.65" cy="1375.9" r="2.9"/><rect x="221.5" y="1386.9" width="15.5" height="2.7"/></g><g fill="none" stroke="#131313" stroke-width="4.4"><path d="M95.45 1392 C95.45 1385.6 97.8 1382.7 102.7 1382.7"/><circle cx="112.1" cy="1388.65" r="6.6"/><circle cx="132.15" cy="1388.65" r="6.55"/><circle cx="178.95" cy="1388.55" r="6.55"/><path d="M154.4 1391 C154.4 1384.8 156.6 1382.3 159.9 1382.3 C163.4 1382.3 165.25 1384.6 165.25 1388.8 V1396.8"/><path d="M185.45 1380.5 V1397.2 C185.45 1400.8 183.2 1402.4 179.3 1402.4 C176.4 1402.4 174.2 1401.6 172.2 1399.8"/><path d="M235.05 1388.42 A6.6 6.6 0 1 0 233.35 1393.07"/></g><g clip-path="url(#cv)"><path fill="none" stroke="#131313" stroke-width="5.6" stroke-linejoin="miter" stroke-miterlimit="10" d="M188.33 1369.80 L198.95 1398.0 L209.75 1369.80"/></g><g clip-path="url(#cw)"><path fill="none" stroke="#131313" stroke-width="4.6" stroke-linejoin="miter" stroke-miterlimit="10" d="M239.03 1377.24 L245.45 1397.6 L250.8 1379.7 L256.1 1397.6 L262.22 1377.24"/></g></svg>
<span class="t" style="left:16.25px;top:14.92px;font-size:19px;letter-spacing:0.176px;color:#15161a;-webkit-text-stroke:0.3px;">Đã tạo với TradingView.com, Tháng Hai 23, 2026 01:14 UTC+7</span>
<span class="t" style="left:28.75px;top:56.92px;font-size:19px;letter-spacing:-0.043px;color:#15161a;-webkit-text-stroke:0.3px;">Vàng / Đô la Mỹ · 30 · ICE</span>
<span class="t" style="left:261.25px;top:56.92px;font-size:19px;letter-spacing:0.000px;color:#15161a;-webkit-text-stroke:0.3px;">O</span>
<span class="t" style="left:275.00px;top:56.92px;font-size:19px;letter-spacing:0.286px;color:#089981;-webkit-text-stroke:0.3px;">5,097.580</span>
<span class="t" style="left:372.50px;top:56.92px;font-size:19px;letter-spacing:0.000px;color:#15161a;-webkit-text-stroke:0.3px;">H</span>
<span class="t" style="left:387.00px;top:56.92px;font-size:19px;letter-spacing:0.193px;color:#089981;-webkit-text-stroke:0.3px;">5,108.530</span>
<span class="t" style="left:484.50px;top:56.92px;font-size:19px;letter-spacing:0.000px;color:#15161a;-webkit-text-stroke:0.3px;">L</span>
<span class="t" style="left:495.50px;top:56.92px;font-size:19px;letter-spacing:-0.307px;color:#089981;-webkit-text-stroke:0.3px;">5,097.170</span>
<span class="t" style="left:589.25px;top:56.92px;font-size:19px;letter-spacing:0.000px;color:#15161a;-webkit-text-stroke:0.3px;">C</span>
<span class="t" style="left:602.50px;top:56.92px;font-size:19px;letter-spacing:0.224px;color:#089981;-webkit-text-stroke:0.3px;">5,108.360</span>
<span class="t" style="left:700.50px;top:56.92px;font-size:19px;letter-spacing:0.226px;color:#089981;-webkit-text-stroke:0.3px;">+10.680</span>
<span class="t" style="left:777.00px;top:56.92px;font-size:19px;letter-spacing:0.029px;color:#089981;-webkit-text-stroke:0.3px;">(+0.21%)</span>
<span class="t" style="left:27.75px;top:83.42px;font-size:19px;letter-spacing:-0.114px;color:#15161a;-webkit-text-stroke:0.3px;">Khối lượng</span>
<span class="t" style="left:132.00px;top:83.42px;font-size:19px;letter-spacing:0.141px;color:#26a69a;-webkit-text-stroke:0.3px;">26.81K</span>
<span class="t" style="left:140.69px;top:1310.22px;font-size:19px;letter-spacing:0.550px;color:#15161a;font-weight:700;transform:scaleX(1.09);transform-origin:0 0;">13</span>
<span class="t" style="left:398.41px;top:1310.22px;font-size:19px;letter-spacing:0.550px;color:#15161a;font-weight:700;transform:scaleX(1.09);transform-origin:0 0;">14</span>
<span class="t" style="left:657.22px;top:1310.22px;font-size:19px;letter-spacing:0.550px;color:#15161a;font-weight:700;transform:scaleX(1.09);transform-origin:0 0;">17</span>
<span class="t" style="left:887.41px;top:1310.22px;font-size:19px;letter-spacing:0.550px;color:#15161a;font-weight:700;transform:scaleX(1.09);transform-origin:0 0;">18</span>
<span class="t" style="left:1145.67px;top:1310.22px;font-size:19px;letter-spacing:0.550px;color:#15161a;font-weight:700;transform:scaleX(1.09);transform-origin:0 0;">19</span>
<span class="t" style="left:1404.48px;top:1310.22px;font-size:19px;letter-spacing:0.550px;color:#15161a;font-weight:700;transform:scaleX(1.09);transform-origin:0 0;">20</span>
<span class="t" style="left:1662.19px;top:1310.22px;font-size:19px;letter-spacing:0.550px;color:#15161a;font-weight:700;transform:scaleX(1.09);transform-origin:0 0;">21</span>
<span class="t" style="left:1797.00px;top:157.52px;font-size:19px;letter-spacing:0.905px;color:#fff;-webkit-text-stroke:0.3px;">5,108.360</span>
<span class="t" style="left:1797.50px;top:1225.92px;font-size:19px;letter-spacing:0.891px;color:#fff;-webkit-text-stroke:0.3px;">26.81K</span>
</div>
</body></html>
